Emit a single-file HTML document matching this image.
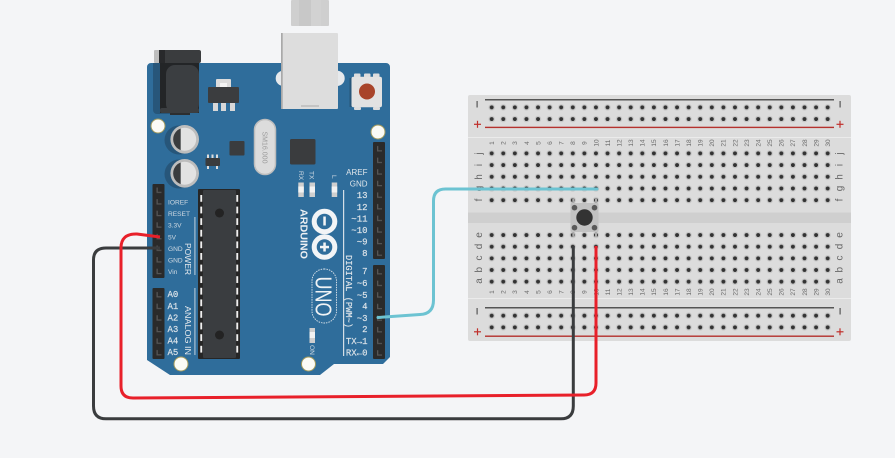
<!DOCTYPE html>
<html><head><meta charset="utf-8"><style>
html,body{margin:0;padding:0;background:#f4f5f7;width:895px;height:458px;overflow:hidden}
svg{display:block}
text{font-family:"Liberation Sans",sans-serif}
.m{font-family:"Liberation Mono",monospace;font-size:9px;fill:#dfe5ea;stroke:#dfe5ea;stroke-width:.15}
.s{font-size:6.6px;fill:#cdd8e1}
.n{font-size:6.5px;fill:#6a6a6a;text-anchor:middle}
.r{font-size:10px;fill:#666;text-anchor:middle}
</style></head><body>
<svg width="895" height="458" viewBox="0 0 895 458" xmlns="http://www.w3.org/2000/svg">
<defs>
<pattern id="hr" patternUnits="userSpaceOnUse" x="485.9" y="101.5" width="11.586" height="11.7"><circle cx="5.79" cy="5.85" r="3.200" fill="#c6c6c6"/><circle cx="5.79" cy="5.85" r="2" fill="#333"/></pattern>
<pattern id="hm" patternUnits="userSpaceOnUse" x="485.9" y="147.5" width="11.586" height="11.7"><circle cx="5.79" cy="5.85" r="3.200" fill="#c6c6c6"/><circle cx="5.79" cy="5.85" r="2" fill="#333"/></pattern>
<pattern id="hl" patternUnits="userSpaceOnUse" x="485.9" y="229.2" width="11.586" height="11.65"><circle cx="5.79" cy="5.825" r="3.200" fill="#c6c6c6"/><circle cx="5.79" cy="5.825" r="2" fill="#333"/></pattern>
<pattern id="hb" patternUnits="userSpaceOnUse" x="485.9" y="309.8" width="11.586" height="11.7"><circle cx="5.79" cy="5.85" r="3.200" fill="#c6c6c6"/><circle cx="5.79" cy="5.85" r="2" fill="#333"/></pattern>
<pattern id="p1" patternUnits="userSpaceOnUse" x="152.5" y="184.5" width="12" height="11.6"><rect width="12" height="11.6" fill="#2a2a2a"/><path d="M4 3v5.500h5v-1.300h-3.700v-4.200z" fill="#555"/></pattern>
<pattern id="p2" patternUnits="userSpaceOnUse" x="152.5" y="289" width="12" height="11.6"><rect width="12" height="11.6" fill="#2a2a2a"/><path d="M4 3v5.500h5v-1.300h-3.700v-4.200z" fill="#555"/></pattern>
<pattern id="p3" patternUnits="userSpaceOnUse" x="373" y="143" width="12" height="11.6"><rect width="12" height="11.6" fill="#2a2a2a"/><path d="M4 3v5.500h5v-1.300h-3.700v-4.200z" fill="#555"/></pattern>
<pattern id="p4" patternUnits="userSpaceOnUse" x="373" y="266" width="12" height="11.6"><rect width="12" height="11.6" fill="#2a2a2a"/><path d="M4 3v5.500h5v-1.300h-3.700v-4.200z" fill="#555"/></pattern>
<pattern id="cp" patternUnits="userSpaceOnUse" x="0" y="195" width="458" height="11.6"><rect x="200.3" y="0" width="1.900" height="6.800" fill="#f0f0f0"/><rect x="236.3" y="0" width="1.900" height="6.800" fill="#f0f0f0"/></pattern>
</defs>
<rect width="895" height="458" fill="#f4f5f7"/>

<!-- breadboard -->
<rect x="468" y="95" width="383" height="246" rx="2" fill="#dcdcdc"/>
<rect x="468" y="137" width="383" height="1" fill="#ebebeb"/>
<rect x="468" y="298" width="383" height="1" fill="#ebebeb"/>
<rect x="468" y="212.500" width="383" height="10.500" fill="#cfcfcf"/>
<rect x="485" y="99" width="349" height="1.500" fill="#555"/>
<rect x="485" y="126.700" width="349" height="1.400" fill="#b5322e"/>
<rect x="485" y="307" width="349" height="1.500" fill="#555"/>
<rect x="485" y="335.500" width="349" height="1.400" fill="#b5322e"/>
<rect x="485.900" y="101.500" width="347.600" height="23.400" fill="url(#hr)"/>
<rect x="485.900" y="147.500" width="347.600" height="58.500" fill="url(#hm)"/>
<rect x="485.900" y="229.200" width="347.600" height="58.250" fill="url(#hl)"/>
<rect x="485.900" y="309.800" width="347.600" height="23.400" fill="url(#hb)"/>
<!-- rail symbols -->
<g fill="#555">
<rect x="476.500" y="101" width="1.200" height="6.500"/><rect x="839.500" y="101" width="1.200" height="6.500"/>
<rect x="476.500" y="308" width="1.200" height="6.500"/><rect x="839.500" y="308" width="1.200" height="6.500"/>
</g>
<g fill="#c0302c">
<rect x="474" y="123.700" width="7" height="1.200"/><rect x="476.900" y="120.800" width="1.200" height="7"/>
<rect x="836.500" y="123.700" width="7" height="1.200"/><rect x="839.400" y="120.800" width="1.200" height="7"/>
<rect x="474" y="331.200" width="7" height="1.200"/><rect x="476.900" y="328.300" width="1.200" height="7"/>
<rect x="836.500" y="331.200" width="7" height="1.200"/><rect x="839.400" y="328.300" width="1.200" height="7"/>
</g>

<!-- column numbers -->
<g transform="translate(494,143) rotate(-90)">
<text class="n" y="0">1</text><text class="n" y="11.590">2</text><text class="n" y="23.170">3</text><text class="n" y="34.760">4</text><text class="n" y="46.340">5</text><text class="n" y="57.930">6</text><text class="n" y="69.520">7</text><text class="n" y="81.100">8</text><text class="n" y="92.690">9</text><text class="n" y="104.270">10</text><text class="n" y="115.860">11</text><text class="n" y="127.450">12</text><text class="n" y="139.030">13</text><text class="n" y="150.620">14</text><text class="n" y="162.200">15</text><text class="n" y="173.790">16</text><text class="n" y="185.380">17</text><text class="n" y="196.960">18</text><text class="n" y="208.550">19</text><text class="n" y="220.130">20</text><text class="n" y="231.720">21</text><text class="n" y="243.310">22</text><text class="n" y="254.890">23</text><text class="n" y="266.480">24</text><text class="n" y="278.060">25</text><text class="n" y="289.650">26</text><text class="n" y="301.240">27</text><text class="n" y="312.820">28</text><text class="n" y="324.410">29</text><text class="n" y="335.990">30</text>
</g>
<g transform="translate(494,292) rotate(-90)">
<text class="n" y="0">1</text><text class="n" y="11.590">2</text><text class="n" y="23.170">3</text><text class="n" y="34.760">4</text><text class="n" y="46.340">5</text><text class="n" y="57.930">6</text><text class="n" y="69.520">7</text><text class="n" y="81.100">8</text><text class="n" y="92.690">9</text><text class="n" y="104.270">10</text><text class="n" y="115.860">11</text><text class="n" y="127.450">12</text><text class="n" y="139.030">13</text><text class="n" y="150.620">14</text><text class="n" y="162.200">15</text><text class="n" y="173.790">16</text><text class="n" y="185.380">17</text><text class="n" y="196.960">18</text><text class="n" y="208.550">19</text><text class="n" y="220.130">20</text><text class="n" y="231.720">21</text><text class="n" y="243.310">22</text><text class="n" y="254.890">23</text><text class="n" y="266.480">24</text><text class="n" y="278.060">25</text><text class="n" y="289.650">26</text><text class="n" y="301.240">27</text><text class="n" y="312.820">28</text><text class="n" y="324.410">29</text><text class="n" y="335.990">30</text>
</g>
<!-- row letters -->
<g>
<text class="r" transform="translate(482,153.500) rotate(-90)">j</text>
<text class="r" transform="translate(482,165) rotate(-90)">i</text>
<text class="r" transform="translate(482,177) rotate(-90)">h</text>
<text class="r" transform="translate(482,188.500) rotate(-90)">g</text>
<text class="r" transform="translate(482,200) rotate(-90)">f</text>
<text class="r" transform="translate(482,235) rotate(-90)">e</text>
<text class="r" transform="translate(482,246.500) rotate(-90)">d</text>
<text class="r" transform="translate(482,258) rotate(-90)">c</text>
<text class="r" transform="translate(482,269.700) rotate(-90)">b</text>
<text class="r" transform="translate(482,281) rotate(-90)">a</text>
<text class="r" transform="translate(842.500,153.500) rotate(-90)">j</text>
<text class="r" transform="translate(842.500,165) rotate(-90)">i</text>
<text class="r" transform="translate(842.500,177) rotate(-90)">h</text>
<text class="r" transform="translate(842.500,188.500) rotate(-90)">g</text>
<text class="r" transform="translate(842.500,200) rotate(-90)">f</text>
<text class="r" transform="translate(842.500,235) rotate(-90)">e</text>
<text class="r" transform="translate(842.500,246.500) rotate(-90)">d</text>
<text class="r" transform="translate(842.500,258) rotate(-90)">c</text>
<text class="r" transform="translate(842.500,269.700) rotate(-90)">b</text>
<text class="r" transform="translate(842.500,281) rotate(-90)">a</text>
</g>

<!-- push button -->
<rect x="572.300" y="198.500" width="2" height="6" fill="#aaa"/><rect x="595" y="198.500" width="2" height="6" fill="#aaa"/>
<rect x="572.300" y="231" width="2" height="6" fill="#aaa"/><rect x="595" y="231" width="2" height="6" fill="#aaa"/>
<rect x="570.500" y="203" width="28" height="29" rx="1" fill="#c2c2c2"/>
<circle cx="574.500" cy="207.700" r="2.800" fill="#5a5a5a"/><circle cx="594.500" cy="207.700" r="2.800" fill="#5a5a5a"/>
<circle cx="574.500" cy="227.700" r="2.800" fill="#5a5a5a"/><circle cx="594.500" cy="227.700" r="2.800" fill="#5a5a5a"/>
<circle cx="584.500" cy="217.500" r="8.200" fill="#333"/>

<!-- USB cable -->
<rect x="291" y="0" width="38" height="26" rx="1" fill="#cfcfcf"/>
<rect x="299" y="0" width="12" height="26" fill="#c8c8c8"/>
<rect x="311" y="0" width="10" height="26" fill="#d2d2d2"/>

<!-- arduino -->
<path d="M151 63H386a4 4 0 0 1 4 4V357L383 364H334L320 375H170L147 360V67a4 4 0 0 1 4-4Z" fill="#2f6d9b"/>
<path d="M153 63H170V114H157a4 4 0 0 1-4-4Z" fill="#27567a"/>
<rect x="275.700" y="70.700" width="69" height="15.300" rx="7.600" fill="#e6e9ec"/>
<rect x="281" y="33" width="57" height="76" rx="1" fill="#dddddd"/>
<rect x="281" y="33" width="1.700" height="76" fill="#a9a9a9"/>
<rect x="301" y="105.500" width="18" height="1" fill="#aaa"/>
<!-- reset -->
<rect x="354" y="73.500" width="6.500" height="4" rx="1" fill="#ddd"/><rect x="364" y="73.500" width="6.500" height="4" rx="1" fill="#ddd"/><rect x="373" y="73.500" width="6.500" height="4" rx="1" fill="#ddd"/>
<rect x="354" y="107" width="7" height="3" rx="1" fill="#ddd"/><rect x="373" y="107" width="7" height="3" rx="1" fill="#ddd"/>
<rect x="349.500" y="78" width="5" height="29" fill="#27567a"/>
<rect x="351.500" y="76.700" width="30.500" height="30.500" rx="2" fill="#e2e2e2"/>
<circle cx="367" cy="91.500" r="8" fill="#a8442a"/>
<!-- jack -->
<rect x="154" y="50" width="8" height="13" rx="1" fill="#bdbdbd"/>
<rect x="160" y="63" width="39" height="50" fill="#232527"/>
<rect x="159" y="50" width="42" height="13" rx="2" fill="#3a3c3e"/>
<rect x="159" y="50" width="6" height="13" fill="#28292b"/>
<rect x="166" y="65" width="33" height="48" rx="9" fill="#3b3e41"/>
<rect x="160" y="108" width="39" height="5" rx="2" fill="#3b3e41"/>
<rect x="170" y="113" width="20" height="2" fill="#2c2e30"/>
<!-- regulator -->
<rect x="216" y="79" width="15" height="9" rx="1" fill="#dcdcdc"/><rect x="220" y="83" width="7" height="4" fill="#f4f4f4"/>
<rect x="213" y="102" width="5" height="9" fill="#d8d8d8"/><rect x="221" y="102" width="5" height="9" fill="#d8d8d8"/><rect x="230" y="102" width="5" height="9" fill="#d8d8d8"/>
<rect x="208" y="87" width="31" height="16" rx="1" fill="#3b3d3f"/>
<!-- mount holes -->
<g fill="#fbfbf6" stroke="#a39a5c" stroke-width="1">
<circle cx="158" cy="126" r="7"/><circle cx="378" cy="132" r="7"/><circle cx="181" cy="364" r="7"/><circle cx="308.500" cy="364" r="7"/>
</g>
<!-- capacitors -->
<circle cx="179" cy="140" r="14.500" fill="#27567a"/><circle cx="179" cy="174" r="14.500" fill="#27567a"/>
<circle cx="184.700" cy="139.300" r="14.300" fill="#bdbdbd"/><circle cx="184.700" cy="139.300" r="11.500" fill="#e2e2e2"/>
<path d="M180.700 128.500a11.500 11.500 0 0 0 0 21.600Z" fill="#3a3c3e"/>
<circle cx="184.700" cy="173.300" r="14.300" fill="#bdbdbd"/><circle cx="184.700" cy="173.300" r="11.500" fill="#e2e2e2"/>
<path d="M180.700 162.500a11.500 11.500 0 0 0 0 21.600Z" fill="#3a3c3e"/>
<!-- small parts -->
<rect x="229.500" y="141" width="15" height="14.500" rx="1" fill="#3a3c3e"/>
<rect x="207" y="154.500" width="2" height="4" fill="#ddd"/><rect x="211.500" y="154.500" width="2" height="4" fill="#ddd"/><rect x="216" y="154.500" width="2" height="4" fill="#ddd"/>
<rect x="207" y="165" width="2" height="4" fill="#ddd"/><rect x="216" y="165" width="2" height="4" fill="#ddd"/>
<rect x="205.500" y="158" width="14.500" height="8" rx="1" fill="#3a3c3e"/>
<rect x="254.500" y="119.500" width="21" height="55" rx="10.500" fill="#dcdcdc" stroke="#bdbdbd" stroke-width="1.500"/>
<text transform="translate(262.500,131.500) rotate(90)" font-size="7" fill="#9a9a9a" textLength="32" lengthAdjust="spacingAndGlyphs">SM16.000</text>
<rect x="290" y="139" width="25.500" height="25.500" rx="1.500" fill="#3a3c3e"/>
<!-- LEDs -->
<g>
<rect x="298.300" y="182.500" width="5.500" height="14.500" fill="#cfcfcf"/><rect x="298.300" y="186.500" width="5.500" height="6" fill="#f2f2f2"/>
<rect x="309.500" y="182.500" width="5.500" height="14.500" fill="#cfcfcf"/><rect x="309.500" y="186.500" width="5.500" height="6" fill="#f2f2f2"/>
<rect x="331.700" y="182.500" width="5.500" height="14.500" fill="#cfcfcf"/><rect x="331.700" y="186.500" width="5.500" height="6" fill="#f2f2f2"/>
<rect x="309.500" y="328" width="5.500" height="15" fill="#cfcfcf"/><rect x="309.500" y="332" width="5.500" height="6" fill="#f2f2f2"/>
</g>
<text class="s" transform="translate(298.800,171) rotate(90)">RX</text>
<text class="s" transform="translate(309.700,171) rotate(90)">TX</text>
<text class="s" transform="translate(332,175) rotate(90)">L</text>
<text class="s" transform="translate(310,345) rotate(90)">ON</text>
<!-- atmega -->
<rect x="198" y="189" width="42" height="170" rx="1" fill="#262626"/>
<rect x="203" y="190" width="33" height="168" rx="1" fill="#3a3d40"/>
<rect x="198" y="195" width="42" height="158" fill="url(#cp)"/>
<circle cx="219.500" cy="213" r="4.500" fill="#232323"/><circle cx="219.500" cy="335" r="4.500" fill="#232323"/>
<!-- headers -->
<rect x="152.500" y="184" width="12" height="94" rx="1" fill="url(#p1)"/>
<rect x="152.500" y="288" width="12" height="71" rx="1" fill="url(#p2)"/>
<rect x="373" y="142" width="12" height="117" rx="1" fill="url(#p3)"/>
<rect x="373" y="265" width="12" height="94" rx="1" fill="url(#p4)"/>
<!-- silkscreen left -->
<text class="s" x="168" y="204.500">IOREF</text>
<text class="s" x="168" y="216">RESET</text>
<text class="s" x="168" y="227.500">3.3V</text>
<text class="s" x="168" y="239.500">5V</text>
<text class="s" x="168" y="251">GND</text>
<text class="s" x="168" y="262.500">GND</text>
<text class="s" x="168" y="274">Vin</text>
<text class="m" x="167.500" y="297">A0</text><text class="m" x="167.500" y="309">A1</text><text class="m" x="167.500" y="320.500">A2</text><text class="m" x="167.500" y="332">A3</text><text class="m" x="167.500" y="343.500">A4</text><text class="m" x="167.500" y="355">A5</text>
<rect x="194.300" y="217" width="1.200" height="58" fill="#a9c0d2"/>
<rect x="194.300" y="288" width="1.200" height="67" fill="#a9c0d2"/>
<text transform="translate(185,243) rotate(90)" font-size="8.500" fill="#e4e8ec" textLength="32" lengthAdjust="spacingAndGlyphs">POWER</text>
<text transform="translate(185,306) rotate(90)" font-size="8.500" fill="#e4e8ec" textLength="49" lengthAdjust="spacingAndGlyphs">ANALOG IN</text>
<!-- silkscreen right -->
<rect x="343" y="190" width="1.200" height="166" fill="#d5dee6"/>
<text x="367.500" y="175" text-anchor="end" font-size="8" fill="#dfe5ea">AREF</text>
<text x="367.500" y="186.500" text-anchor="end" font-size="8" fill="#dfe5ea">GND</text>
<g text-anchor="end">
<text class="m" x="367.500" y="198">13</text><text class="m" x="367.500" y="210">12</text><text class="m" x="367.500" y="221.500">~11</text><text class="m" x="367.500" y="233">~10</text><text class="m" x="367.500" y="244.500">~9</text><text class="m" x="367.500" y="256">8</text>
<text class="m" x="367.500" y="274">7</text><text class="m" x="367.500" y="286">~6</text><text class="m" x="367.500" y="298">~5</text><text class="m" x="367.500" y="309">4</text><text class="m" x="367.500" y="321">~3</text><text class="m" x="367.500" y="332">2</text><text class="m" x="367.500" y="344">TX→1</text><text class="m" x="367.500" y="355.500">RX←0</text>
</g>
<text class="m" transform="translate(346,255) rotate(90)" textLength="73" lengthAdjust="spacingAndGlyphs">DIGITAL (PWM~)</text>
<text transform="translate(300.500,209) rotate(90)" font-size="10" font-weight="bold" fill="#eef1f4" textLength="50" lengthAdjust="spacingAndGlyphs">ARDUINO</text>
<!-- logo -->
<g fill="none" stroke="#f2f4f6" stroke-width="5">
<circle cx="324.500" cy="221.500" r="10.300"/><circle cx="324.500" cy="247" r="10.300"/>
</g>
<rect x="323.300" y="216.500" width="2.500" height="9" fill="#f2f4f6"/>
<rect x="323.300" y="242.500" width="2.500" height="9" fill="#f2f4f6"/><rect x="320" y="245.800" width="9" height="2.500" fill="#f2f4f6"/>
<rect x="312" y="269" width="24.500" height="54" rx="12" fill="none" stroke="#dfe6ec" stroke-width="0.900" stroke-dasharray="1.500 1"/>
<text transform="translate(315.500,276.500) rotate(90)" font-size="23" fill="#f0f3f5" textLength="40" lengthAdjust="spacingAndGlyphs">UNO</text>

<!-- wires -->
<path d="M378 317.500L420 314.500Q433.500 314 433.500 300V201Q433.500 189 445.500 189H597" fill="none" stroke="#6cc3d2" stroke-width="3" stroke-linecap="round"/>
<path d="M160 248H106Q93.500 248 93.500 260V406Q93.500 418.800 106 418.800H561Q573.300 418.800 573.300 406V246" fill="none" stroke="#3a3c3e" stroke-width="3"/>
<path d="M160 237L137 234Q121 233.500 121 248V386Q121 398 133 398L584 395Q596 395 596 383V246" fill="none" stroke="#e8202a" stroke-width="3"/>
</svg>
</body></html>
